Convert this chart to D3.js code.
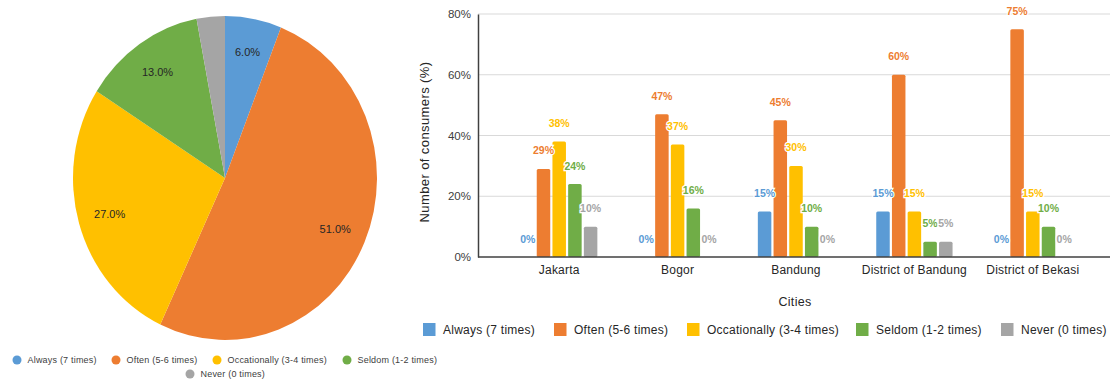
<!DOCTYPE html>
<html>
<head>
<meta charset="utf-8">
<script src="https://cdn.jsdelivr.net/npm/d3@7"></script>
<style>
  html, body { margin: 0; padding: 0; background: #fff; }
  svg { display: block; font-family: "Liberation Sans", Arial, sans-serif; }
</style>
</head>
<body>
<svg id="chart" width="1113" height="379"></svg>
<script>
// Frequency groups (shared by both charts)
const frequencies = ["Always (7 times)", "Often (5-6 times)", "Occationally (3-4 times)", "Seldom (1-2 times)", "Never (0 times)"];
const colors = ["#5B9BD5", "#ED7D31", "#FFC000", "#70AD47", "#A5A5A5"];

// Overall share of consumers (pie)
const overallShare = [6, 51, 27, 13, 3];

// Share of consumers by city (grouped bars), one array per frequency group
const cities = ["Jakarta", "Bogor", "Bandung", "District of Bandung", "District of Bekasi"];
const always = [0, 0, 15, 15, 0];
const often = [29, 47, 45, 60, 75];
const occasionally = [38, 37, 30, 15, 15];
const seldom = [24, 16, 10, 5, 10];
const never = [10, 0, 0, 5, 0];
const cityValues = [always, often, occasionally, seldom, never];

const yTicks = [0, 20, 40, 60, 80];

const svg = d3.select("#chart");

// ---------- Pie chart ----------
const cx = 225, cy = 178, rx = 152, ry = 162;
const pieGen = d3.pie().sort(null).value(d => d.v);
const pieData = pieGen(overallShare.map((v, i) => ({ v, i })));
const arc = d3.arc().innerRadius(0).outerRadius(rx);
const labelArc = d3.arc().innerRadius(rx * 0.79).outerRadius(rx * 0.79);

const pieG = svg.append("g").attr("transform", `translate(${cx},${cy}) scale(1,${ry / rx})`);
pieG.selectAll("path").data(pieData).join("path")
  .attr("d", arc)
  .attr("fill", d => colors[d.data.i]);

svg.append("g").selectAll("text")
  .data(pieData.filter(d => d.data.i !== 4))
  .join("text")
  .attr("x", d => cx + labelArc.centroid(d)[0])
  .attr("y", d => cy + labelArc.centroid(d)[1] * ry / rx)
  .attr("dy", "0.35em")
  .attr("text-anchor", "middle")
  .attr("font-size", 11)
  .attr("fill", "#262626")
  .text(d => d.data.v.toFixed(1) + "%");

// Pie legend
const pieLegend = [
  { x: 17, y: 360 }, { x: 116, y: 360 }, { x: 217, y: 360 }, { x: 347, y: 360 }, { x: 190, y: 374 }
];
const pl = svg.append("g").selectAll("g").data(frequencies).join("g")
  .attr("transform", (d, i) => `translate(${pieLegend[i].x},${pieLegend[i].y})`);
pl.append("circle").attr("r", 4.5).attr("fill", (d, i) => colors[i]);
pl.append("text").attr("x", 10.5).attr("dy", "0.35em")
  .attr("font-size", 9).attr("fill", "#404040").attr("letter-spacing", 0.2)
  .text(d => d);

// ---------- Grouped bar chart ----------
const plotLeft = 478, plotRight = 1110, plotTop = 14, plotBottom = 257;
const y = d3.scaleLinear().domain([0, 80]).range([plotBottom, plotTop]);
const x0 = d3.scaleBand().domain(cities).range([500, 1092]).padding(0);
const x1 = d3.scaleBand().domain(d3.range(frequencies.length))
  .range([0, x0.bandwidth()]).paddingInner(0.14).paddingOuter(1.34);

// Gridlines
svg.append("g").selectAll("line").data(yTicks.filter(t => t > 0)).join("line")
  .attr("x1", plotLeft).attr("x2", plotRight)
  .attr("y1", d => y(d)).attr("y2", d => y(d))
  .attr("stroke", "#d9d9d9").attr("stroke-width", 1);

// Y axis
const yAxis = svg.append("g").attr("transform", `translate(${plotLeft},0)`)
  .call(d3.axisLeft(y).tickValues(yTicks).tickSize(0).tickPadding(7).tickFormat(d => d + "%"));
yAxis.select(".domain").attr("stroke", "#404040").attr("stroke-width", 1.5);
yAxis.selectAll("text").attr("font-size", 11.5).attr("fill", "#404040")
  .attr("font-family", "Liberation Sans, Arial, sans-serif");

// Bars
const groups = svg.append("g").selectAll("g").data(cities).join("g")
  .attr("transform", c => `translate(${x0(c)},0)`);

groups.selectAll("rect")
  .data((c, ci) => cityValues.map((vals, si) => ({ si, v: vals[ci] })))
  .join("rect")
  .attr("x", d => x1(d.si))
  .attr("width", x1.bandwidth())
  .attr("y", d => y(d.v))
  .attr("height", d => plotBottom - y(d.v))
  .attr("rx", 1.5)
  .attr("fill", d => colors[d.si]);

// Baseline (x axis)
const xAxis = svg.append("g").attr("transform", `translate(0,${plotBottom})`)
  .call(d3.axisBottom(x0).tickSize(0).tickPadding(8));
xAxis.select(".domain").attr("d", `M${plotLeft},0H${plotRight}`)
  .attr("stroke", "#404040").attr("stroke-width", 1.5);
xAxis.selectAll("text").attr("font-size", 12).attr("fill", "#262626")
  .attr("letter-spacing", 0.2)
  .attr("font-family", "Liberation Sans, Arial, sans-serif");

// Value labels
groups.selectAll("text.val")
  .data((c, ci) => cityValues.map((vals, si) => ({ si, v: vals[ci] })))
  .join("text")
  .attr("class", "val")
  .attr("x", d => x1(d.si) + x1.bandwidth() / 2)
  .attr("y", d => y(d.v) - 14.5)
  .attr("text-anchor", "middle")
  .attr("font-size", 10.5)
  .attr("font-weight", "bold")
  .attr("fill", d => colors[d.si])
  .attr("stroke", "#fff").attr("stroke-width", 2.5)
  .attr("paint-order", "stroke")
  .text(d => d.v + "%");

// Axis titles
svg.append("text")
  .attr("transform", "translate(429,142) rotate(-90)")
  .attr("text-anchor", "middle")
  .attr("font-size", 13).attr("fill", "#262626").attr("letter-spacing", 0.4)
  .text("Number of consumers (%)");

svg.append("text")
  .attr("x", 795).attr("y", 302).attr("dy", "0.35em")
  .attr("text-anchor", "middle")
  .attr("font-size", 12.5).attr("fill", "#262626").attr("letter-spacing", 0.3)
  .text("Cities");

// Bar legend
const barLegendX = [423, 554, 687, 856, 1001];
const bl = svg.append("g").selectAll("g").data(frequencies).join("g")
  .attr("transform", (d, i) => `translate(${barLegendX[i]},323)`);
bl.append("rect").attr("width", 12.5).attr("height", 13).attr("fill", (d, i) => colors[i]);
bl.append("text").attr("x", 20).attr("y", 6.5).attr("dy", "0.35em")
  .attr("font-size", 12).attr("fill", "#262626").attr("letter-spacing", 0.25)
  .text(d => d);
</script>
</body>
</html>
